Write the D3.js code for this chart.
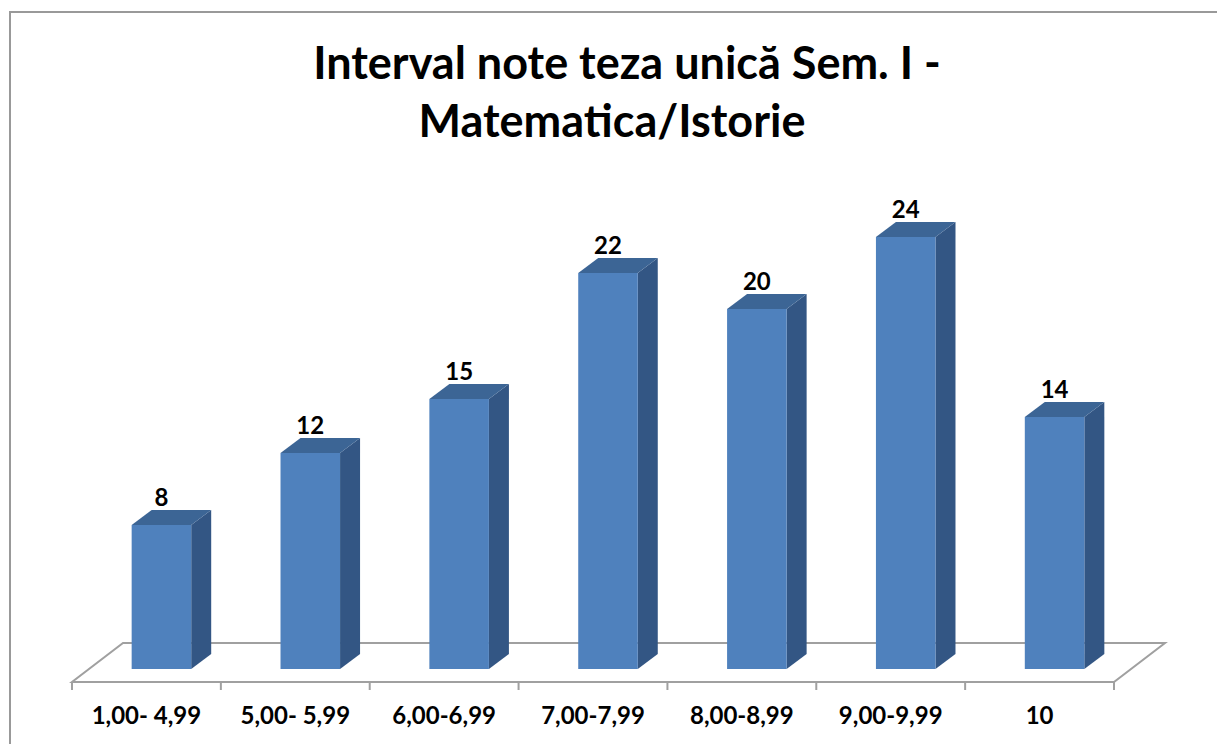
<!DOCTYPE html>
<html>
<head>
<meta charset="utf-8">
<script src="https://cdn.jsdelivr.net/npm/d3@7"></script>
<style>
  body { margin: 0; background: #fff; }
  svg { display: block; font-family: Lato, "Open Sans", sans-serif; }
</style>
</head>
<body>
<svg id="chart" width="1217" height="744"></svg>
<script>
// data
const titleLines = ['Interval note teza unică Sem. I -', 'Matematica/Istorie'];
const categories = ['1,00- 4,99', '5,00- 5,99', '6,00-6,99', '7,00-7,99', '8,00-8,99', '9,00-9,99', '10'];
const values = [8, 12, 15, 22, 20, 24, 14];

const svg = d3.select('#chart');

// chart frame
svg.append('rect')
  .attr('x', 10).attr('y', 12)
  .attr('width', 1240).attr('height', 760)
  .attr('fill', 'none')
  .attr('stroke', '#999')
  .attr('stroke-width', 2);

// title
svg.append('text')
  .attr('text-anchor', 'middle')
  .attr('font-weight', 'bold')
  .attr('font-size', 45)
  .selectAll('tspan')
  .data(titleLines)
  .enter()
  .append('tspan')
    .attr('x', (d, i) => i === 0 ? 627 : 612)
    .attr('y', (d, i) => 79 + i * 58)
    .text(d => d);

// 3d geometry
const floorFront = 682;
const floorDx = 51, floorDy = -39;   // depth of the floor
const barDx = 20, barDy = -15;       // depth of each bar
const shiftX = 15;                    // bar front face is set back into the floor

const x = d3.scaleBand()
  .domain(categories)
  .range([72, 1114]);

const y = d3.scaleLinear()
  .domain([0, 25])
  .range([669, 669 - 18 * 25]);

const bw = x.bandwidth();
const barW = bw * 0.4;

// floor
const x0 = x.range()[0], x1 = x.range()[1];
svg.append('path')
  .attr('d', `M${x0},${floorFront} L${x1},${floorFront} L${x1 + floorDx},${floorFront + floorDy} L${x0 + floorDx},${floorFront + floorDy} Z`)
  .attr('fill', 'none')
  .attr('stroke', '#a0a0a0')
  .attr('stroke-width', 2);

// x axis ticks and labels
const xAxis = d3.axisBottom(x).tickSize(0).tickPadding(0);
const axisG = svg.append('g')
  .attr('transform', `translate(0, ${floorFront})`)
  .call(xAxis);
axisG.select('.domain').remove();
axisG.selectAll('.tick text')
  .attr('y', 42)
  .attr('dy', 0)
  .attr('fill', '#000')
  .attr('font-family', 'Lato, "Open Sans", sans-serif')
  .attr('font-size', 24)
  .attr('font-weight', 'bold');

const tickPos = categories.map(c => x(c)).concat([x1]);
svg.append('g')
  .selectAll('line')
  .data(tickPos)
  .enter()
  .append('line')
    .attr('x1', d => d).attr('x2', d => d)
    .attr('y1', floorFront).attr('y2', floorFront + 8)
    .attr('stroke', '#a0a0a0')
    .attr('stroke-width', 2);

// bars
const bars = svg.append('g')
  .selectAll('g')
  .data(categories.map((c, i) => ({ cat: c, value: values[i] })))
  .enter()
  .append('g');

const left = d => x(d.cat) + (bw - barW) / 2 + shiftX;

bars.append('path') // side
  .attr('d', d => {
    const r = left(d) + barW, t = y(d.value), b = y(0);
    return `M${r},${t} L${r + barDx},${t + barDy} L${r + barDx},${b + barDy} L${r},${b} Z`;
  })
  .attr('fill', '#335684');

bars.append('path') // top
  .attr('d', d => {
    const l = left(d), r = l + barW, t = y(d.value);
    return `M${l},${t} L${l + barDx},${t + barDy} L${r + barDx},${t + barDy} L${r},${t} Z`;
  })
  .attr('fill', '#3c6595');

bars.append('rect') // front
  .attr('x', d => left(d))
  .attr('y', d => y(d.value))
  .attr('width', barW)
  .attr('height', d => y(0) - y(d.value))
  .attr('fill', '#4f81bd');

bars.append('text')
  .attr('x', d => left(d) + barW / 2)
  .attr('y', d => y(d.value) - 19)
  .attr('text-anchor', 'middle')
  .attr('font-size', 24)
  .attr('font-weight', 'bold')
  .text(d => d.value);
</script>
</body>
</html>
